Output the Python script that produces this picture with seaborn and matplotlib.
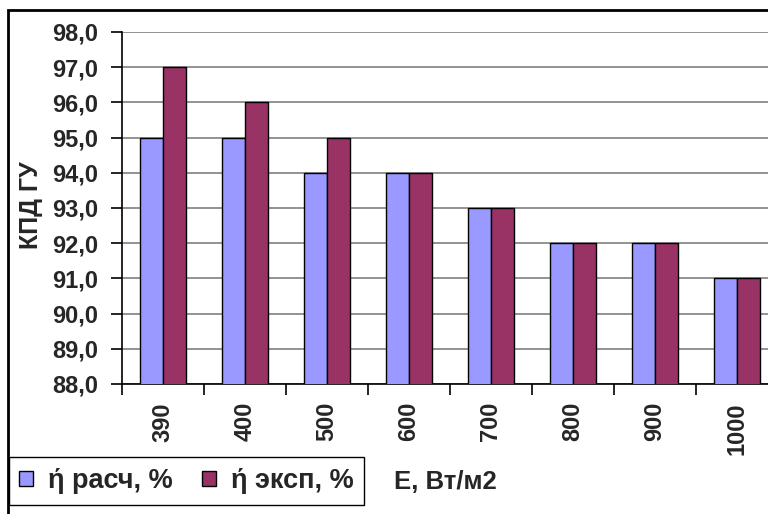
import matplotlib
matplotlib.use("Agg")
import matplotlib.pyplot as plt
from matplotlib.patches import Rectangle, Patch
from matplotlib.ticker import FixedLocator, FuncFormatter
import numpy as np
import pandas as pd
import seaborn as sns

# Irradiance levels and efficiency values
irradiance = ["390", "400", "500", "600", "700", "800", "900", "1000"]
eff_calc = [95, 95, 94, 94, 93, 92, 92, 91]
eff_exp = [97, 96, 95, 94, 93, 92, 92, 91]
series_names = ["ή расч, %", "ή эксп, %"]
colors = ["#9999FF", "#993366"]

df = pd.DataFrame({
    "E": irradiance * 2,
    "value": eff_calc + eff_exp,
    "series": [series_names[0]] * len(irradiance) + [series_names[1]] * len(irradiance),
})

sns.set_theme(style="white")
plt.rcParams["font.family"] = ["Liberation Sans", "DejaVu Sans"]
plt.rcParams["font.weight"] = "bold"

W, H = 768, 514
fig = plt.figure(figsize=(W / 100, H / 100), dpi=100)
fig.patch.set_facecolor("white")

# plot area in pixel coordinates (it runs past the right edge)
x0, x1, ytop, ybot = 122, 778, 32, 384
ax = fig.add_axes([x0 / W, 1 - ybot / H, (x1 - x0) / W, (ybot - ytop) / H])

sns.barplot(data=df, x="E", y="value", hue="series", order=irradiance,
            hue_order=series_names, palette=colors, width=0.571,
            edgecolor="black", linewidth=1.0, saturation=1, ax=ax,
            legend=False, zorder=3)

ax.set_ylim(88, 98)
ax.set_xlim(-0.5, len(irradiance) - 0.5)
ax.set_yticks(np.arange(88, 98.1, 1))
ax.yaxis.set_major_formatter(FuncFormatter(lambda v, p: f"{v:.1f}".replace(".", ",")))
ax.grid(axis="y", color="#808080", linewidth=1.2, zorder=0)
ax.set_axisbelow(True)

for s in ["top", "right"]:
    ax.spines[s].set_visible(False)
for s in ["left", "bottom"]:
    ax.spines[s].set_color("black")
    ax.spines[s].set_linewidth(1.2)

ax.tick_params(axis="y", length=8, width=1.2, color="black", direction="out",
               labelsize=17, pad=9, left=True)
ax.tick_params(axis="x", which="major", length=0, labelsize=17, pad=13,
               labelrotation=90)
ax.xaxis.set_minor_locator(FixedLocator(np.arange(-0.5, len(irradiance), 1)))
ax.tick_params(axis="x", which="minor", length=8, width=1.2, color="black",
               direction="out", bottom=True)
for lab in ax.get_xticklabels() + ax.get_yticklabels():
    lab.set_fontweight("bold")
for lab in ax.get_xticklabels():
    lab.set_verticalalignment("top")
ax.set_xlabel("")
ax.set_ylabel("")

# axis titles
fig.text(31 / W, 1 - 205 / H, "КПД ГУ", rotation=90, ha="center", va="center",
         fontsize=18, fontweight="bold")
fig.text(445 / W, 1 - 482 / H, "E, Вт/м2", ha="center", va="center",
         fontsize=18.5, fontweight="bold")

# legend
handles = [Patch(facecolor=c, edgecolor="black", linewidth=1.0) for c in colors]
leg = fig.legend(handles, series_names, ncol=2, loc="center",
                 bbox_to_anchor=(186.5 / W, 1 - 481 / H), frameon=True,
                 fancybox=False, edgecolor="black", framealpha=1,
                 handlelength=0.5, handleheight=0.5, handletextpad=0.55,
                 columnspacing=1.1, borderpad=0.4, borderaxespad=0,
                 prop={"size": 19.5, "weight": "bold"})
leg.get_frame().set_linewidth(1.0)

# outer chart border
fig.patches.append(Rectangle((8, -20), 800, H - 10 + 20, transform=None,
                             fill=False, edgecolor="black", linewidth=2))

fig.savefig("out.png", dpi=100)
